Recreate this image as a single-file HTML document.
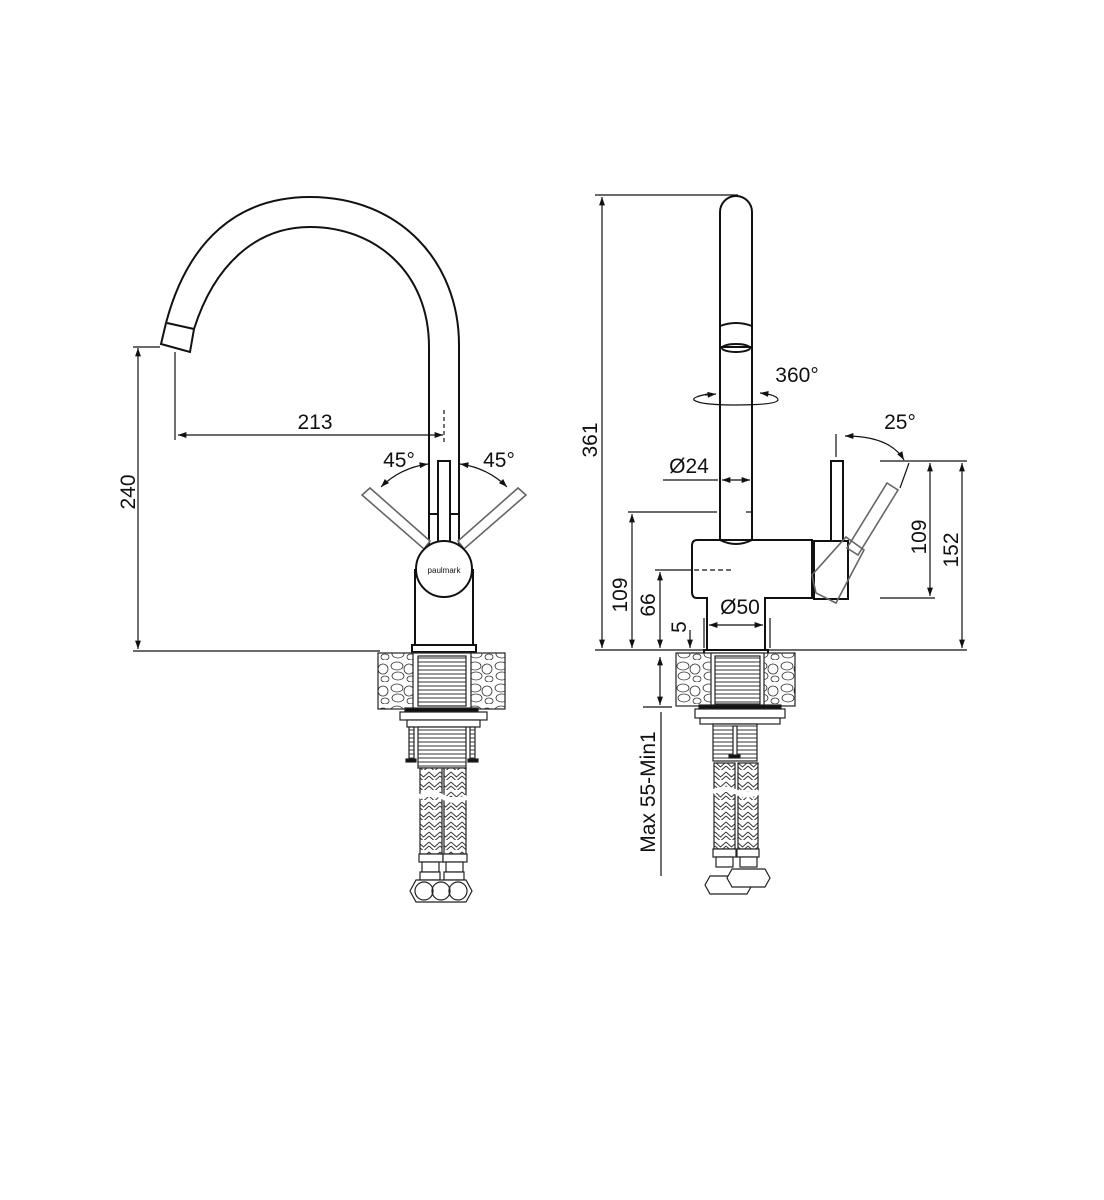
<!DOCTYPE html>
<html><head><meta charset="utf-8"><style>html,body{margin:0;padding:0;background:#fff}svg{display:block}</style></head>
<body>
<svg width="1104" height="1200" viewBox="0 0 1104 1200" xmlns="http://www.w3.org/2000/svg" font-family="Liberation Sans, sans-serif">
<defs>
<marker id="a" viewBox="0 0 10 10" refX="10" refY="5" markerWidth="9" markerHeight="7" orient="auto-start-reverse"><path d="M0,1.5 L10,5 L0,8.5 z" fill="#111"/></marker>
<pattern id="st" width="26" height="22" patternUnits="userSpaceOnUse">
<rect width="26" height="22" fill="#fff"/>
<g fill="none" stroke="#333" stroke-width="0.8">
<ellipse cx="7" cy="6" rx="6" ry="4"/><ellipse cx="19" cy="9" rx="5" ry="5"/><ellipse cx="8" cy="16" rx="6" ry="4"/><ellipse cx="21" cy="19" rx="4" ry="3"/></g></pattern>
<pattern id="br" width="11" height="10" patternUnits="userSpaceOnUse">
<rect width="11" height="10" fill="#fff"/>
<path d="M0,2 L5.5,7 L11,2 M0,6 L5.5,11 L11,6" fill="none" stroke="#333" stroke-width="1"/></pattern>
<pattern id="th" width="10" height="4" patternUnits="userSpaceOnUse">
<rect width="10" height="4" fill="#fff"/><line x1="0" y1="2" x2="10" y2="2" stroke="#333" stroke-width="1"/></pattern>
</defs>
<g fill="none" stroke="#111" stroke-width="2">
<!-- LEFT VIEW -->
<path d="M166 323 C 188 240, 238 197, 310 197 C 400 197, 459 262, 459 345 L 459 546"/>
<path d="M194 329 C 214 266, 255 227, 310 227 C 375 227, 429 272, 429 347 L 429 546"/>
<path d="M166 323 L161 344 L190 352 L194 329"/>
<line x1="167" y1="323" x2="194" y2="329"/>
<line x1="429" y1="514" x2="459" y2="514"/>
<rect x="438" y="461" width="12" height="82" fill="#fff"/>
<g stroke="#666" stroke-width="1.6" fill="#fff">
<path d="M362 495 L370 488 L430 541 L424 549 Z"/>
<path d="M526 495 L518 488 L458 541 L464 549 Z"/>
</g>
<rect x="415" y="570" width="58" height="76" fill="#fff"/>
<circle cx="444" cy="569" r="28" fill="#fff"/>
<rect x="412" y="645" width="64" height="7" fill="#fff"/>
</g>
<text x="444" y="573" font-size="8" text-anchor="middle" fill="#111">paulmark</text>
<!-- left dims -->
<g stroke="#111" stroke-width="1.2" fill="none">
<line x1="133" y1="347" x2="160" y2="347"/>
<line x1="138" y1="348" x2="138" y2="649" marker-start="url(#a)" marker-end="url(#a)"/>
<line x1="133" y1="651" x2="380" y2="651"/>
<line x1="175" y1="352" x2="175" y2="440"/>
<line x1="178" y1="435" x2="443" y2="435" marker-start="url(#a)" marker-end="url(#a)"/>
<line x1="444" y1="410" x2="444" y2="442" stroke-dasharray="4,3"/>
<path d="M381 487 Q 400 468 428 464" marker-start="url(#a)" marker-end="url(#a)"/>
<path d="M507 487 Q 488 468 460 464" marker-start="url(#a)" marker-end="url(#a)"/>
</g>
<g fill="#111" font-size="21">
<text x="315" y="429" text-anchor="middle">213</text>
<text x="399" y="467" text-anchor="middle">45°</text>
<text x="499" y="467" text-anchor="middle">45°</text>
<text transform="translate(135,492) rotate(-90)" text-anchor="middle">240</text>
</g>
<!-- left under-sink -->
<g stroke="#222" stroke-width="1.2">
<rect x="378" y="653" width="127" height="56" fill="url(#st)"/>
<rect x="413" y="653" width="58" height="56" fill="#fff"/>
<rect x="418" y="656" width="48" height="50" fill="url(#th)"/>
<rect x="405" y="708" width="73" height="4" fill="#111"/>
<rect x="400" y="712" width="87" height="8" fill="#fff"/>
<rect x="407" y="720" width="73" height="7" fill="#fff"/>
<rect x="418" y="727" width="48" height="41" fill="url(#th)"/>
<rect x="409" y="727" width="5" height="32" fill="url(#th)"/>
<rect x="470" y="727" width="5" height="32" fill="url(#th)"/>
<rect x="406" y="759" width="10" height="3" fill="#111"/><rect x="468" y="759" width="10" height="3" fill="#111"/>
<rect x="420" y="768" width="22" height="86" fill="url(#br)"/>
<rect x="444" y="768" width="22" height="86" fill="url(#br)"/>
<path d="M419 797 Q 432 790 443 797 T 467 797" fill="#fff" stroke="#fff" stroke-width="5"/>
<rect x="419" y="854" width="24" height="8" fill="#fff"/><rect x="443" y="854" width="24" height="8" fill="#fff"/>
<rect x="422" y="862" width="17" height="10" fill="#fff"/><rect x="446" y="862" width="17" height="10" fill="#fff"/>
<rect x="420" y="872" width="20" height="8" fill="#fff"/><rect x="444" y="872" width="20" height="8" fill="#fff"/>
<path d="M410 891 L416 880 L466 880 L472 891 L466 902 L416 902 Z" fill="#fff"/>
<circle cx="424" cy="891" r="9" fill="none"/><circle cx="441" cy="891" r="9" fill="none"/><circle cx="458" cy="891" r="9" fill="none"/>
</g>
<!-- RIGHT VIEW -->
<g fill="none" stroke="#111" stroke-width="2">
<path d="M720 540 L720 212 A16 16 0 0 1 752 212 L752 540"/>
<path d="M720 326 Q736 320 752 326 M720 347 L752 347"/>
<ellipse cx="736" cy="348" rx="14" ry="4"/>
<path d="M697 540 L812 540 L812 598 L765 598 L765 650 L707 650 L707 598 L697 598 Q692 598 692 592 L692 546 Q692 540 697 540 Z" fill="#fff"/>
<path d="M720 540 Q736 548 752 540" />
<rect x="704" y="650" width="64" height="6" fill="#fff"/>
<rect x="814" y="541" width="34" height="58" fill="#fff"/>
<rect x="831" y="461" width="12" height="80" fill="#fff"/>
</g>
<g stroke="#666" stroke-width="1.6" fill="none">
<path d="M887 483 L898 490 L858 555 L847 548 Z"/>
<path d="M846 537 L864 550 L836 603 L816 593 L812 575 Z"/>
<line x1="900" y1="488" x2="909" y2="463" stroke="#111" stroke-width="1.2"/>
</g>
<!-- right dims -->
<g stroke="#111" stroke-width="1.2" fill="none">
<line x1="595" y1="195" x2="738" y2="195"/>
<line x1="602" y1="197" x2="602" y2="648" marker-start="url(#a)" marker-end="url(#a)"/>
<line x1="595" y1="650" x2="967" y2="650"/>
<line x1="628" y1="512" x2="717" y2="512"/><line x1="752" y1="512" x2="746" y2="512"/>
<line x1="632" y1="514" x2="632" y2="648" marker-start="url(#a)" marker-end="url(#a)"/>
<line x1="655" y1="570" x2="692" y2="570"/>
<line x1="694" y1="570" x2="732" y2="570" stroke-dasharray="5,3"/>
<line x1="660" y1="572" x2="660" y2="648" marker-start="url(#a)" marker-end="url(#a)"/>
<line x1="690" y1="630" x2="690" y2="648" marker-end="url(#a)"/>
<line x1="690" y1="672" x2="690" y2="657" marker-end="url(#a)"/>
<line x1="680" y1="655" x2="700" y2="655"/>
<line x1="704" y1="618" x2="704" y2="648"/><line x1="770" y1="618" x2="770" y2="648"/>
<line x1="709" y1="625" x2="763" y2="625" marker-start="url(#a)" marker-end="url(#a)"/>
<line x1="663" y1="480" x2="718" y2="480"/>
<line x1="722" y1="480" x2="750" y2="480" marker-start="url(#a)" marker-end="url(#a)"/>
<path d="M708 394 Q 692 397 694 400 Q 700 405 736 405 Q 776 405 778 400 Q 778 395 760 393" marker-end="url(#a)"/>
<line x1="705" y1="395" x2="716" y2="394" marker-end="url(#a)"/>
<line x1="836" y1="434" x2="836" y2="457"/>
<path d="M845 436 Q 890 436 904 460" marker-start="url(#a)" marker-end="url(#a)"/>
<line x1="880" y1="461" x2="967" y2="461"/>
<line x1="880" y1="598" x2="935" y2="598"/>
<line x1="930" y1="463" x2="930" y2="596" marker-start="url(#a)" marker-end="url(#a)"/>
<line x1="962" y1="463" x2="962" y2="648" marker-start="url(#a)" marker-end="url(#a)"/>
<line x1="660" y1="657" x2="660" y2="705" marker-start="url(#a)" marker-end="url(#a)"/>
<line x1="643" y1="707" x2="672" y2="707"/>
<line x1="661" y1="712" x2="661" y2="876"/>
</g>
<g fill="#111" font-size="21">
<text transform="translate(597,440) rotate(-90)" text-anchor="middle">361</text>
<text transform="translate(627,595) rotate(-90)" text-anchor="middle">109</text>
<text transform="translate(655,605) rotate(-90)" text-anchor="middle">66</text>
<text transform="translate(686,627) rotate(-90)" text-anchor="middle">5</text>
<text x="740" y="614" text-anchor="middle">Ø50</text>
<text x="689" y="473" text-anchor="middle">Ø24</text>
<text x="797" y="382" text-anchor="middle">360°</text>
<text x="900" y="429" text-anchor="middle">25°</text>
<text transform="translate(926,537) rotate(-90)" text-anchor="middle">109</text>
<text transform="translate(958,550) rotate(-90)" text-anchor="middle">152</text>
<text transform="translate(655,792) rotate(-90)" text-anchor="middle">Max 55-Min1</text>
</g>
<!-- right under-sink -->
<g stroke="#222" stroke-width="1.2">
<rect x="676" y="653" width="119" height="53" fill="url(#st)"/>
<rect x="711" y="653" width="53" height="53" fill="#fff"/>
<rect x="715" y="656" width="45" height="48" fill="url(#th)"/>
<rect x="699" y="705" width="82" height="4" fill="#111"/>
<rect x="695" y="709" width="90" height="9" fill="#fff"/>
<rect x="700" y="718" width="80" height="6" fill="#fff"/>
<rect x="713" y="724" width="44" height="37" fill="url(#th)"/>
<rect x="733" y="726" width="4" height="30" fill="#fff"/>
<rect x="729" y="755" width="11" height="3" fill="#111"/>
<rect x="714" y="763" width="21" height="86" fill="url(#br)"/>
<rect x="738" y="763" width="20" height="86" fill="url(#br)"/>
<path d="M713 792 Q 725 786 736 792 T 759 792" fill="#fff" stroke="#fff" stroke-width="5"/>
<rect x="713" y="849" width="23" height="8" fill="#fff"/><rect x="737" y="849" width="22" height="8" fill="#fff"/>
<rect x="716" y="857" width="17" height="10" fill="#fff"/><rect x="740" y="857" width="17" height="10" fill="#fff"/>
<path d="M705 885 L710 876 L747 876 L752 885 L747 894 L710 894 Z" fill="#fff"/>
<path d="M727 878 L732 869 L765 869 L770 878 L765 887 L732 887 Z" fill="#fff"/>
</g>
</svg>
</body></html>
